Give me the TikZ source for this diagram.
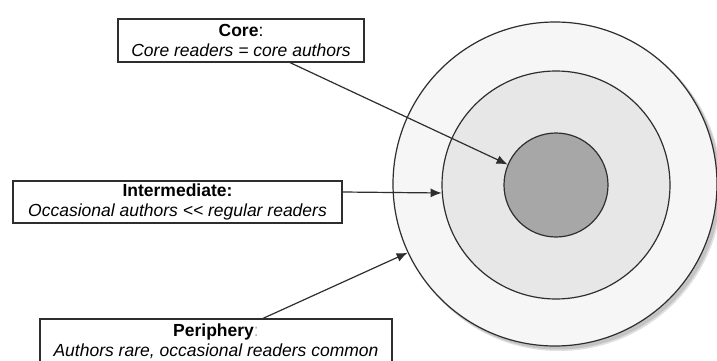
\documentclass[tikz,border=0pt]{standalone}
\usepackage{fontspec}
\setmainfont{Liberation Sans}
\usetikzlibrary{arrows.meta,shadows}
\definecolor{lineC}{HTML}{2E2E2E}
\definecolor{outerC}{HTML}{F6F6F6}
\definecolor{midC}{HTML}{E7E7E7}
\definecolor{innerC}{HTML}{A7A7A7}
\tikzset{
  labelbox/.style={draw=lineC, line width=1.2pt, fill=white, inner sep=0pt, align=center,
    font=\fontsize{17.5}{20}\selectfont},
  ring/.style={circle, draw=lineC, line width=1.2pt, inner sep=0pt},
  arr/.style={draw=lineC, line width=1.2pt, -{Latex[length=11pt,width=9pt]}}
}
\begin{document}
\begin{tikzpicture}[x=1pt,y=-1pt]
\useasboundingbox[fill=white] (0,0) rectangle (717,361);
% circles
\fill[black, opacity=0.12] (559,188) circle (163);
\fill[black, opacity=0.12] (558,187) circle (162.5);
\node[ring, fill=outerC, minimum size=324pt] (outer) at (555,184) {};
\node[ring, fill=midC, minimum size=228pt] (middle) at (556,185) {};
\node[ring, fill=innerC, minimum size=104pt] (inner) at (556,185) {};
% label boxes
\node[labelbox, minimum width=246pt, minimum height=43pt] (core) at (241,40.5)
  {\textbf{Core}:\\\textit{Core readers = core authors}};
\node[labelbox, minimum width=329pt, minimum height=42pt] (inter) at (177.5,202)
  {\textbf{Intermediate:}\\\textit{Occasional authors {<}{<} regular readers}};
\node[labelbox, minimum width=352pt, minimum height=45pt] (peri) at (216,341.5)
  {\textbf{Periphery}\textcolor{gray!60}{:}\\\textit{Authors rare, occasional readers common}};
% connectors
\draw[arr] ([xshift=49pt]core.south) -- (inner.157);
\draw[arr] (inter.east |- 0,192) -- (middle.184);
\draw[arr] ([xshift=47pt]peri.north) -- (outer.205);
\end{tikzpicture}
\end{document}
